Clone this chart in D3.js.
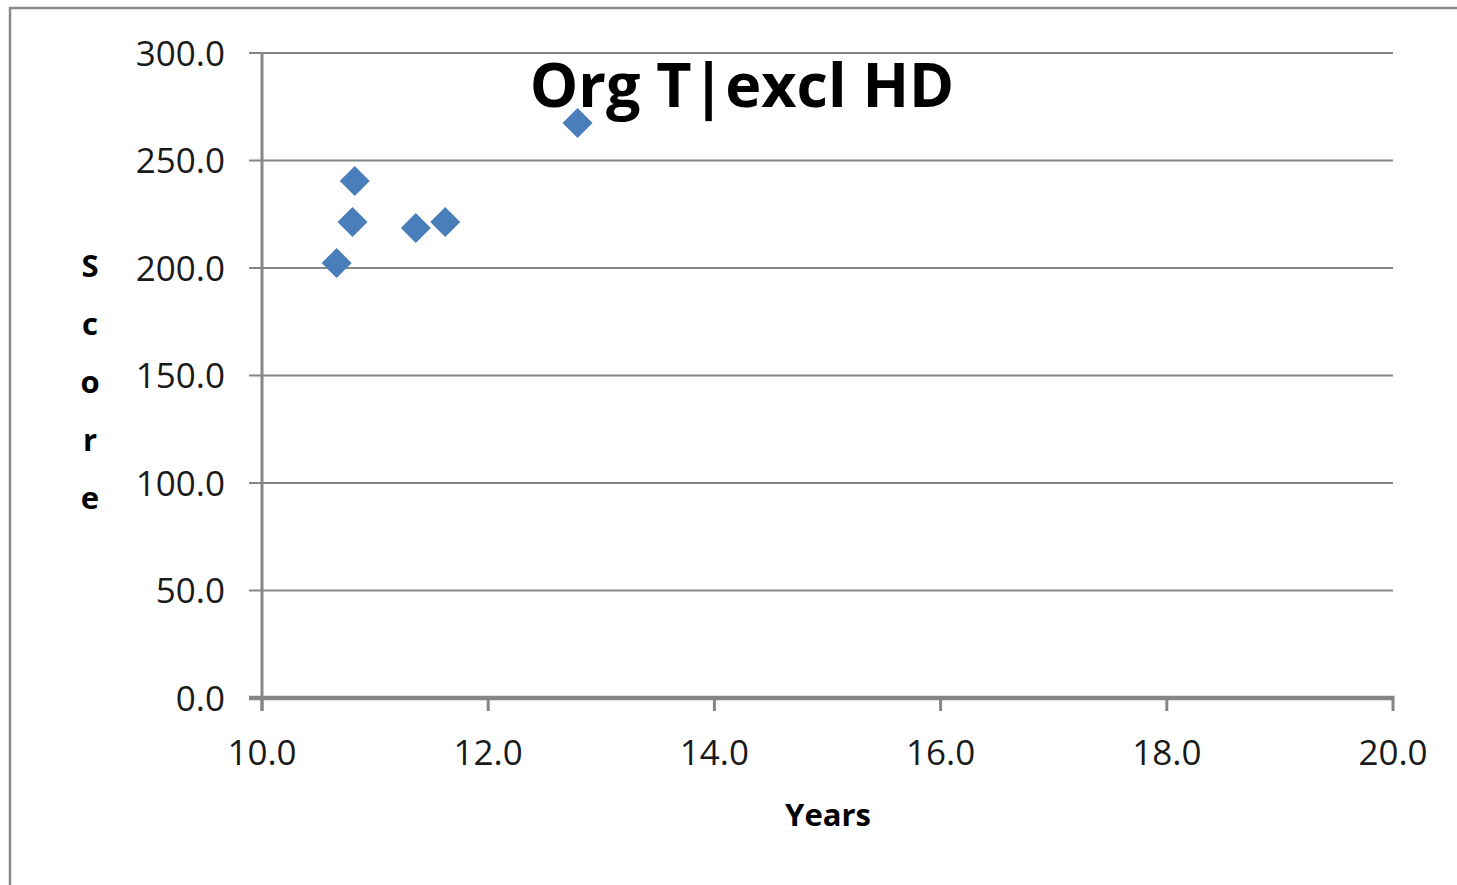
<!DOCTYPE html>
<html lang="en">
<head>
    <meta charset="utf-8">
    <script src="https://cdn.jsdelivr.net/npm/d3@7"></script>
    <style>
        body { margin: 0; background: white; }
        text { font-family: "Open Sans", sans-serif; }
        .grid line { stroke: #868686; stroke-width: 2px; }
        .tick-label { font-size: 35px; fill: #1a1a1a; }
        .axis-title { font-size: 31px; font-weight: bold; fill: #000; }
        .title { font-size: 61px; font-weight: bold; fill: #000; }
    </style>
</head>
<body>
<script>
    // data
    let years = [10.66, 10.80, 10.82, 11.36, 11.62, 12.79];
    let scores = [202.3, 221.4, 240.5, 218.6, 221.4, 267.4];
    let xTicks = [10, 12, 14, 16, 18, 20];
    let yTicks = [0, 50, 100, 150, 200, 250, 300];

    let width = 1457, height = 885;
    let svg = d3.select('body').append('svg')
        .attr('width', width).attr('height', height);

    // chart frame (only left and top show in the picture)
    svg.append('rect')
        .attr('x', 10).attr('y', 8)
        .attr('width', 1460).attr('height', 900)
        .attr('fill', 'white').attr('stroke', '#8a8a8a').attr('stroke-width', 2.5);

    let x = d3.scaleLinear().domain([10, 20]).range([262, 1393]);
    let y = d3.scaleLinear().domain([0, 300]).range([698, 53]);

    // horizontal gridlines with small ticks sticking out on the left
    let grid = svg.append('g').attr('class', 'grid');
    grid.selectAll('line')
        .data(yTicks.filter(function (d) { return d > 0; }))
        .enter().append('line')
        .attr('x1', 249).attr('x2', 1393)
        .attr('y1', function (d) { return y(d); })
        .attr('y2', function (d) { return y(d); });

    // y axis line
    svg.append('line')
        .attr('x1', x(10)).attr('x2', x(10))
        .attr('y1', y(300)).attr('y2', y(0) + 13)
        .attr('stroke', '#868686').attr('stroke-width', 3);

    // x axis line + ticks
    svg.append('line')
        .attr('x1', 249).attr('x2', x(20) + 1.5)
        .attr('y1', y(0)).attr('y2', y(0))
        .attr('stroke', '#868686').attr('stroke-width', 4.5);
    svg.append('g').selectAll('line')
        .data(xTicks)
        .enter().append('line')
        .attr('x1', function (d) { return x(d); })
        .attr('x2', function (d) { return x(d); })
        .attr('y1', y(0)).attr('y2', y(0) + 13)
        .attr('stroke', '#868686').attr('stroke-width', 3);

    // tick labels
    svg.append('g').selectAll('text')
        .data(yTicks)
        .enter().append('text')
        .attr('class', 'tick-label')
        .attr('x', 225)
        .attr('y', function (d) { return y(d) + 12.5; })
        .attr('text-anchor', 'end')
        .text(function (d) { return d.toFixed(1); });

    svg.append('g').selectAll('text')
        .data(xTicks)
        .enter().append('text')
        .attr('class', 'tick-label')
        .attr('x', function (d) { return x(d); })
        .attr('y', 765)
        .attr('text-anchor', 'middle')
        .text(function (d) { return d.toFixed(1); });

    // diamonds
    let diamond = d3.symbol().type(d3.symbolSquare).size(450);
    svg.append('g').selectAll('path')
        .data(years)
        .enter().append('path')
        .attr('d', diamond)
        .attr('fill', '#4a7ebb')
        .attr('transform', function (d, i) {
            return 'translate(' + x(d) + ',' + y(scores[i]) + ') rotate(45)';
        });

    // title and axis titles
    svg.append('text')
        .attr('class', 'title')
        .attr('x', 742).attr('y', 107)
        .attr('text-anchor', 'middle')
        .text('Org T|excl HD');

    svg.append('text')
        .attr('class', 'axis-title')
        .attr('x', 828).attr('y', 826)
        .attr('text-anchor', 'middle')
        .text('Years');

    svg.append('g').selectAll('text')
        .data('Score'.split(''))
        .enter().append('text')
        .attr('class', 'axis-title')
        .attr('x', 90)
        .attr('y', function (d, i) { return 277 + i * 58; })
        .attr('text-anchor', 'middle')
        .text(function (d) { return d; });
</script>
</body>
</html>
